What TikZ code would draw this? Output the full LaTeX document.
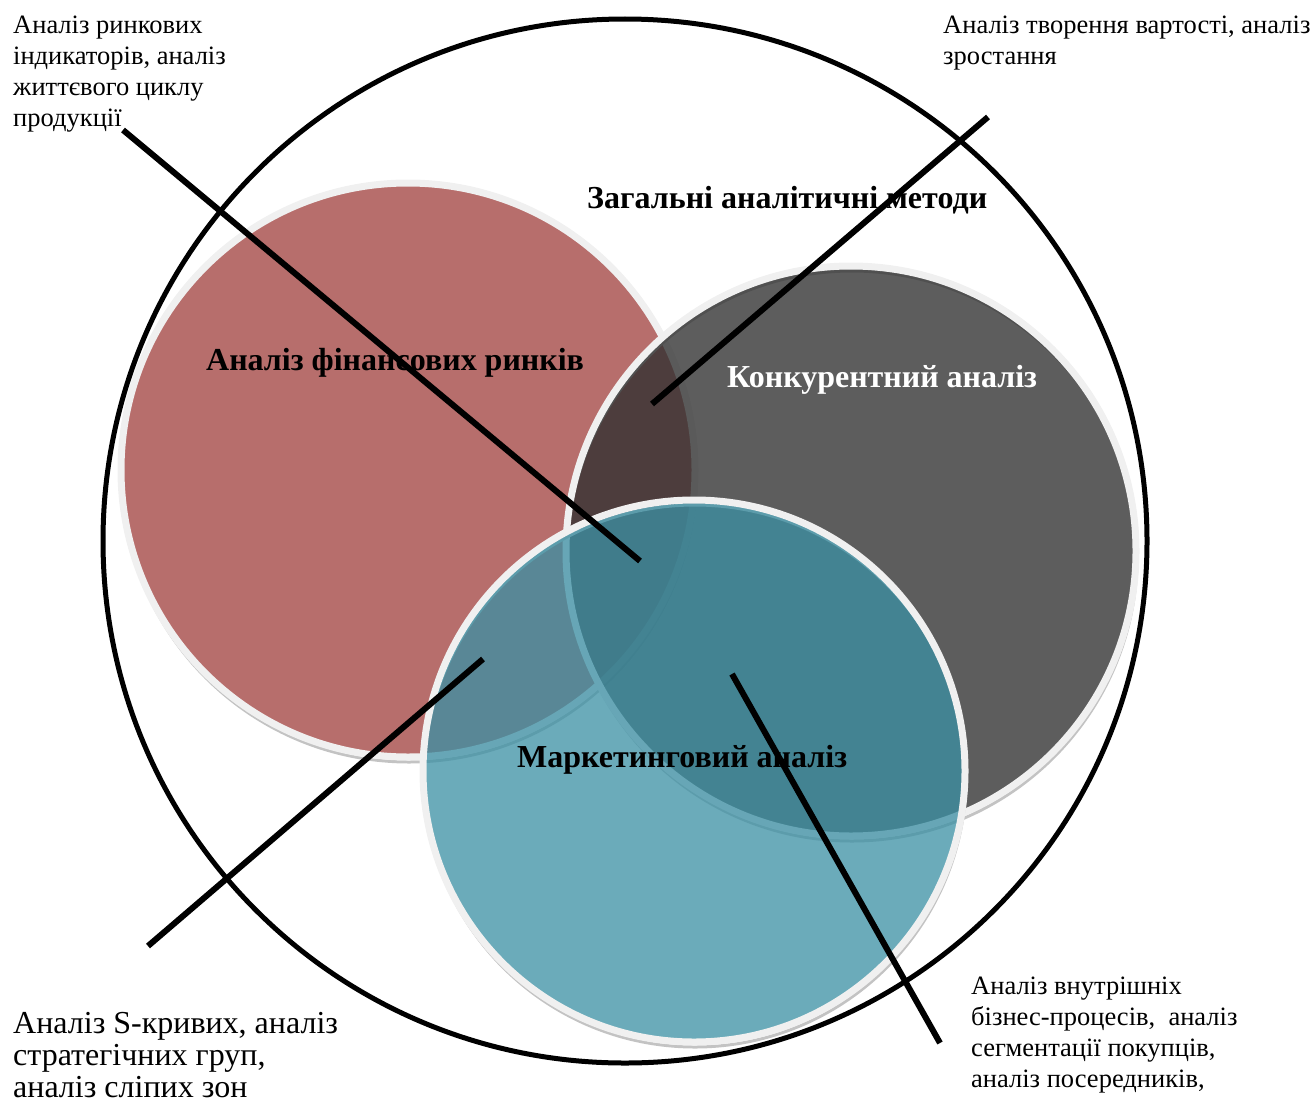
\documentclass[tikz,border=0pt]{standalone}
\usepackage{fontspec}
\setmainfont{Liberation Serif}
\definecolor{finred}{RGB}{183,110,108}
\definecolor{compgray}{RGB}{48,48,48}
\definecolor{mktblue}{RGB}{60,144,164}
\definecolor{ringgray}{RGB}{240,240,240}
\definecolor{shadegray}{RGB}{195,195,195}
\begin{document}
\begin{tikzpicture}[x=1pt,y=-1pt,
  setcircle/.style={circle, inner sep=0pt, minimum size=#1, line width=7pt, draw=ringgray},
  setshadow/.style={circle, inner sep=0pt, minimum size=#1, line width=3pt, draw=shadegray},
  lead/.style={line width=6pt, black},
  note/.style={anchor=base west, inner sep=0pt, align=left, font=\fontsize{26.5}{31}\selectfont},
  title/.style={anchor=base west, inner sep=0pt, font=\fontsize{32}{36}\selectfont\bfseries}]
\useasboundingbox (0,0) rectangle (1316,1108);

% outer frame: general analytical methods
\node[circle, inner sep=0pt, minimum size=1044pt, draw, line width=5pt] (outer) at (625,541) {};

% three overlapping sets with their soft shadows
\node[setshadow=574pt] (finshadow) at (409,475) {};
\node[setcircle=574pt, fill=finred] (fin) at (408,470) {};
\node[setshadow=570pt] (compshadow) at (852,556) {};
\node[setcircle=570pt, fill=compgray, fill opacity=0.78] (comp) at (851,551) {};
\node[setshadow=542pt] (mktshadow) at (695,776) {};
\node[setcircle=542pt, fill=mktblue, fill opacity=0.76] (mkt) at (694,771) {};

% labels of the sets
\node[title] (tgen) at (587,208) {Загальні аналітичні методи};
\node[title] (tfin) at (206,370) {Аналіз фінансових ринків};
\node[title, text=white] (tcomp) at (727,387) {Конкурентний аналіз};
\node[title] (tmkt) at (517,767) {Маркетинговий аналіз};

% notes on the methods (anchored at the baseline of their last line)
\node[note] (ntl) at (13,126) {Аналіз ринкових\\індикаторів, аналіз\\життєвого циклу\\продукції};
\node[note] (ntr) at (943,64) {Аналіз творення вартості, аналіз\\зростання};
\node[note, font=\fontsize{32}{32}\selectfont] (nbl) at (13,1097) {Аналіз S-кривих, аналіз\\стратегічних груп,\\аналіз сліпих зон};
\node[note] (nbr) at (971,1087) {Аналіз внутрішніх\\бізнес-процесів,\ \ аналіз\\сегментації покупців,\\аналіз посередників,};

% leader lines from the notes into the sets
\coordinate (l1a) at (123,130); \coordinate (l1b) at (640,561);
\coordinate (l2a) at (988,117); \coordinate (l2b) at (652,404);
\coordinate (l3a) at (483,659); \coordinate (l3b) at (148,946);
\coordinate (l4a) at (732,674); \coordinate (l4b) at (940,1043);
\draw[lead] (l1a) -- (l1b);
\draw[lead] (l2a) -- (l2b);
\draw[lead] (l3a) -- (l3b);
\draw[lead] (l4a) -- (l4b);
\end{tikzpicture}
\end{document}
